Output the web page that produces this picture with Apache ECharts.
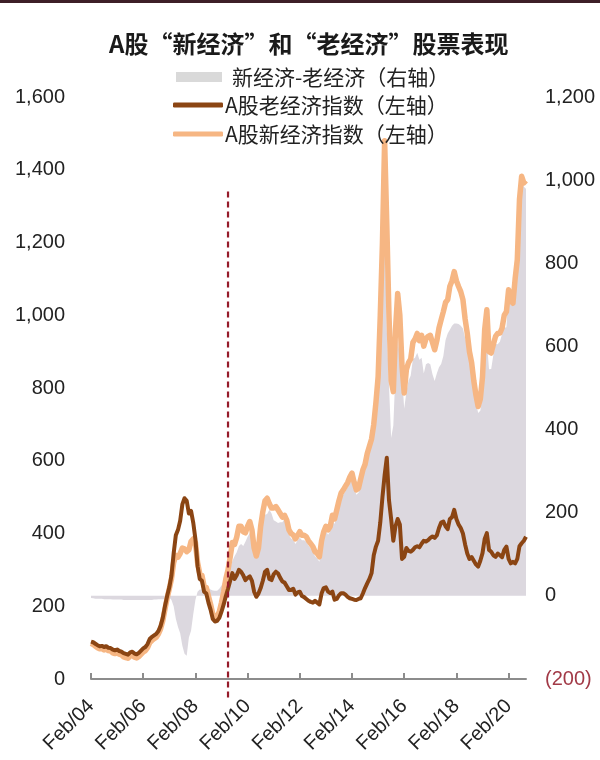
<!DOCTYPE html>
<html>
<head>
<meta charset="utf-8">
<script src="https://cdn.jsdelivr.net/npm/echarts@6/dist/echarts.min.js"></script>
<style>html,body{margin:0;padding:0;background:#fff}#c{width:600px;height:760px}</style>
</head>
<body>
<div id="c"></div>
<script>
// monthly observations, first month = Feb 2004
const startYear = 2004, startMonth = 2;

// A股老经济指数（左轴）
const oldEconomy = [
  103,101,97,93,90,91,88,90,86,85,
  81,79,81,77,75,71,69,67,73,75,
  70,68,72,78,84,88,96,110,116,120,
  124,132,146,168,200,228,252,285,345,395,
  410,435,480,497,490,455,462,430,385,310,
  275,270,240,235,210,190,165,158,160,168,
  185,205,228,248,270,291,275,285,300,295,
  285,272,278,282,270,240,226,235,250,270,
  295,300,275,272,288,295,290,278,268,265,
  255,245,245,248,232,238,240,228,225,220,
  215,212,210,215,210,205,235,250,252,240,
  236,240,218,220,230,236,236,232,226,222,
  220,218,217,220,222,235,250,263,275,291,
  340,364,380,430,500,560,608,492,440,380,
  420,440,425,330,336,360,352,350,355,362,
  365,362,372,380,378,382,388,392,388,395,
  415,430,433,420,412,440,445,465,440,425,
  415,400,370,345,330,335,325,315,309,325,
  346,385,401,355,350,340,336,345,340,335,
  355,364,330,318,322,318,330,365,373,380,
  391
];

// A股新经济指数（左轴）
const newEconomy = [
  98,95,90,86,83,84,80,82,78,77,
  72,70,72,68,66,61,59,57,63,65,
  60,58,62,68,74,78,86,100,106,111,
  115,124,138,160,192,222,248,275,320,340,
  335,345,360,358,350,355,378,385,375,320,
  290,285,255,252,228,205,178,170,172,185,
  210,240,275,300,335,375,370,390,420,420,
  405,402,420,433,410,360,338,360,420,460,
  490,497,482,470,470,474,465,455,445,450,
  437,410,400,396,385,395,405,395,395,391,
  380,372,364,350,345,336,380,405,420,410,
  420,450,440,465,490,511,520,530,540,555,
  566,540,520,525,550,575,590,620,640,660,
  700,760,830,1000,1200,1480,1250,1000,820,790,
  960,1060,1000,860,786,850,870,880,925,935,
  950,930,945,915,935,942,945,925,905,930,
  965,988,1010,1035,1043,1080,1095,1120,1095,1079,
  1065,1043,990,950,900,870,820,780,749,770,
  830,960,1015,900,896,920,942,950,951,965,
  1000,1010,1070,1040,1033,1100,1153,1318,1382,1364,
  1370
];

// 新经济-老经济（右轴）
const spread = [
  -5,-6,-7,-7,-7,-7,-8,-8,-8,-8,
  -9,-9,-9,-9,-9,-10,-10,-10,-10,-10,
  -10,-10,-10,-10,-10,-10,-10,-10,-10,-9,
  -9,-8,-8,-8,-8,-6,-4,-10,-25,-55,
  -75,-90,-120,-139,-144,-100,-84,-45,-10,10,
  15,15,15,17,18,15,13,12,12,17,
  25,35,47,52,65,84,95,105,120,125,
  120,130,142,151,140,120,112,125,170,190,
  195,197,207,198,182,179,175,177,177,185,
  171,147,138,135,125,134,140,134,134,130,
  121,114,107,95,90,82,121,143,156,147,
  156,182,173,195,217,235,243,252,261,274,
  284,261,243,248,270,291,304,331,348,366,
  401,453,515,663,838,920,642,508,380,410,
  540,620,575,530,450,490,518,530,570,573,
  585,568,573,535,557,560,557,533,517,535,
  550,558,577,615,631,640,650,655,655,654,
  650,643,620,605,570,535,495,465,440,445,
  484,575,614,545,546,580,606,605,611,630,
  645,646,740,722,711,782,823,953,1009,984,
  979
];

const tickLabels = ['Feb/04','Feb/06','Feb/08','Feb/10','Feb/12','Feb/14','Feb/16','Feb/18','Feb/20'];
const tickEvery = 24; // months between labelled ticks
// dashed divider (left-axis units), runs a little below the x axis
const divider = { month: '2009-05', top: 1340, bottom: -58 };

const seriesNames = ['新经济-老经济（右轴）', 'A股老经济指数（左轴）', 'A股新经济指数（左轴）'];

const categories = oldEconomy.map(function (_, i) {
  const m = startMonth - 1 + i;
  const y = startYear + Math.floor(m / 12);
  const mm = (m % 12) + 1;
  return y + '-' + String(mm).padStart(2, '0');
});

const COL_GRAY = '#dcd8df', COL_LEG_GRAY = '#d9d9d9', COL_OLD = '#8b4513', COL_NEW = '#f6b683';
const NUM_FONT = "'Liberation Sans', Arial, sans-serif";
const CJK_FONT = "'Noto Sans CJK SC', 'Liberation Sans', sans-serif";

function commas(v) { return String(Math.abs(v)).replace(/\B(?=(\d{3})+(?!\d))/g, ','); }
const showTick = function (idx) { return idx % tickEvery === 0; };

const chart = echarts.init(document.getElementById('c'), null, { renderer: 'canvas' });
chart.setOption({
  animation: false,
  backgroundColor: '#ffffff',
  graphic: [{ type: 'rect', left: 0, top: 0, shape: { width: 600, height: 3 }, style: { fill: '#3d1f27' } }],
  title: {
    text: 'A股“新经济”和“老经济”股票表现',
    left: 104, top: 27,
    textStyle: { fontSize: 24, fontWeight: 'bold', color: '#1a1a1a', fontFamily: CJK_FONT }
  },
  legend: [
    { data: [{ name: seriesNames[0], itemStyle: { color: COL_LEG_GRAY } }], left: 176, top: 65, padding: 0,
      itemWidth: 46, itemHeight: 10, icon: 'rect',
      textStyle: { fontSize: 21, color: '#222', fontFamily: CJK_FONT, lineHeight: 24, padding: [0, 0, 0, 5] } },
    { data: [seriesNames[1]], left: 173, top: 93, padding: 0, itemWidth: 50, itemHeight: 5, icon: 'roundRect',
      textStyle: { fontSize: 21, color: '#222', fontFamily: CJK_FONT, lineHeight: 24, padding: [0, 0, 0, -3] } },
    { data: [seriesNames[2]], left: 173, top: 122, padding: 0, itemWidth: 50, itemHeight: 5, icon: 'roundRect',
      textStyle: { fontSize: 21, color: '#222', fontFamily: CJK_FONT, lineHeight: 24, padding: [0, 0, 0, -3] } }
  ],
  grid: [
    { left: 91, right: 74, top: 97, bottom: 81, containLabel: false },
    { left: 91, right: 74, top: 97, bottom: 60, containLabel: false }
  ],
  xAxis: [
    {
      type: 'category', data: categories, boundaryGap: false, gridIndex: 0,
      axisLine: { lineStyle: { color: '#8c8c8c', width: 2 } },
      axisTick: { show: true, inside: true, length: 6, interval: showTick, lineStyle: { color: '#8c8c8c', width: 2 } },
      axisLabel: {
        interval: showTick, rotate: 45, margin: 24, fontSize: 20, color: '#222', fontFamily: NUM_FONT,
        formatter: function (v, idx) { return tickLabels[Math.round(idx / tickEvery)]; }
      },
      splitLine: { show: false }
    },
    { type: 'category', data: categories, boundaryGap: false, gridIndex: 1, show: false }
  ],
  yAxis: [
    { type: 'value', min: 0, max: 1600, interval: 200, position: 'left', gridIndex: 0,
      axisLine: { show: false }, axisTick: { show: false }, splitLine: { show: false },
      axisLabel: { fontSize: 20, color: '#222', margin: 26, fontFamily: NUM_FONT, formatter: function (v) { return commas(v); } } },
    { type: 'value', min: -200, max: 1200, interval: 200, position: 'right', gridIndex: 0,
      axisLine: { show: false }, axisTick: { show: false }, splitLine: { show: false },
      axisLabel: { fontSize: 20, margin: 19, fontFamily: NUM_FONT,
        color: function (v) { return Number(v) < 0 ? '#a23a47' : '#222'; },
        formatter: function (v) { return v < 0 ? '(' + commas(v) + ')' : commas(v); } } },
    { type: 'value', min: divider.bottom, max: 1600, gridIndex: 1, show: false }
  ],
  series: [
    { name: seriesNames[0], type: 'line', xAxisIndex: 0, yAxisIndex: 1, data: spread, showSymbol: false, symbol: 'none',
      color: COL_GRAY, lineStyle: { width: 0, color: COL_GRAY }, areaStyle: { color: COL_GRAY, opacity: 1 }, z: 1 },
    { name: seriesNames[2], type: 'line', xAxisIndex: 0, yAxisIndex: 0, data: newEconomy, showSymbol: false, symbol: 'none',
      color: COL_NEW, lineStyle: { width: 5.5, color: COL_NEW, join: 'round' }, z: 2 },
    { name: seriesNames[1], type: 'line', xAxisIndex: 0, yAxisIndex: 0, data: oldEconomy, showSymbol: false, symbol: 'none',
      color: COL_OLD, lineStyle: { width: 4, color: COL_OLD, join: 'round' }, z: 3 },
    { name: 'divider', type: 'line', xAxisIndex: 1, yAxisIndex: 2, silent: true, showSymbol: false, symbol: 'none',
      data: [[divider.month, divider.top], [divider.month, divider.bottom]],
      lineStyle: { color: '#961c2a', type: [6, 4], width: 2.2 }, z: 4 }
  ]
});
</script>
</body>
</html>
